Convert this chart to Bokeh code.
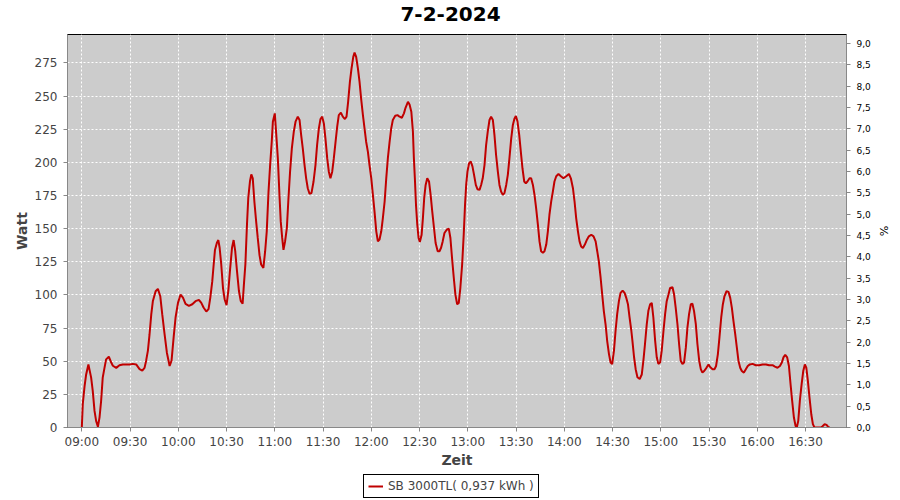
import datetime as dt
from bokeh.plotting import figure
from bokeh.layouts import column
from bokeh.models import (Range1d, LinearAxis, FixedTicker, CustomJSTickFormatter,
                          Legend, LegendItem, DatetimeTickFormatter, Label)
from bokeh.embed import file_html
from bokeh.resources import INLINE

TITLE = "7-2-2024"
Y_LABEL = "Watt"
X_LABEL = "Zeit"
Y2_LABEL = "%"
SERIES_LABEL = "SB 3000TL( 0,937 kWh )"
DAY = (2024, 2, 7)

# minutes after 09:00 and power in watt
min_a = [0, 0.6, 1.7, 2.7, 4.1, 5.8, 6.8, 7.9, 8.9, 10, 11, 12, 13, 14.1, 15.1, 16.8, 18.3, 19.3, 21.4, 23.4,
         25.5, 29.7, 31.7, 33.8, 35.9, 37.6, 39, 40, 41.1, 42.1, 43.2, 44.2, 45.9, 47.3, 48.8, 50, 51.5, 52.9, 54.6, 55.8,
         57.1, 58.3, 59.8, 61.4, 62.9, 64.5, 66.6, 68.7, 70.7, 72.8, 74.3, 75.7, 77.4, 78.8, 79.9, 81.1, 82, 82.8, 84, 84.9,
         85.7, 86.7, 87.8, 88.8, 90, 91.1, 92.1, 93.4, 94.4, 95.4, 96.5, 97.7, 98.8, 100, 100.8, 101.7, 102.7, 103.5, 104.6, 105.4]
watt_a = [0, 17.6, 31, 40, 47.6, 37.6, 27.6, 12.5, 5, 0.5, 7.5, 20, 37.6, 45, 51.4, 53.4, 49, 46.6, 45, 47,
          47.6, 47.6, 48, 47.6, 44, 42.9, 45, 50.4, 58, 70, 85.5, 95.5, 102.8, 104.6, 99, 85.5, 70, 56.4, 46.4, 50.4,
          68, 83, 94, 100.3, 98, 93.3, 91.8, 93, 95.3, 96.3, 94, 90.5, 87.5, 89.3, 98, 110, 123, 134, 139.4, 141.4,
          135.6, 123, 105, 96.8, 92.3, 103, 118, 135.6, 141.4, 133, 118, 103, 95.5, 93.5, 108, 123, 153, 173, 186, 191]

min_b = [106.3, 107.3, 108.4, 109.4, 110.5, 111.5, 112.9, 114, 115, 116.1, 117.1, 118.1, 118.8, 120, 120.8, 121.9,
         122.9, 123.7, 124.6, 125.4, 126.4, 127.5, 128.5, 129.5, 130.6, 131.8, 132.9, 134.3, 135.4, 136.4, 137.4, 138.5,
         139.5, 140.5, 141.6, 142.8, 144.1, 145.3, 146.3, 147.4, 148.4, 149.5, 150.5, 151.5, 152.6, 153.6, 154.6, 155.7,
         156.7, 157.8, 158.8, 159.8, 161.1, 162.3, 163.6, 164.6, 165.6, 166.7, 167.7, 168.8, 169.6, 170.6, 171.7, 172.7,
         173.7, 174.8, 175.8, 176.8, 177.9, 178.9, 180, 181, 182, 183.1, 184.1, 185.1, 186.2, 187.2, 188.3, 189.3,
         190.3, 191.4, 192.4, 193.4, 194.9, 196.3, 197.6, 199, 200.3, 201.3, 202.8, 203.8, 204.9, 205.9, 206.5, 207.1,
         207.8, 208.6, 209.4, 210.2, 211.3, 212.1, 212.9, 213.8, 214.8, 215.9, 216.9, 217.9, 219, 220, 221.3]
watt_b = [188, 170.5, 155.5, 143, 130, 123, 120.4, 133, 148, 178, 198, 215.6, 230.7, 237, 223, 203,
          175.5, 155.5, 143, 134, 140.4, 150.5, 173, 193, 210.6, 223, 230.7, 234.5, 232, 220.6, 210.6, 198,
          188, 180.5, 176.3, 176.8, 185.6, 198, 213, 225.7, 232.7, 234.5, 229.4, 218, 203, 193, 188, 193,
          203, 215.6, 227, 235.7, 237.5, 234.5, 232.7, 234.5, 245.7, 260.8, 270.8, 279.6, 282.8, 279.6, 270.8, 260.8,
          248, 235.7, 225.7, 215.6, 208, 198, 188, 175.5, 163, 148, 140.4, 141.7, 148, 158, 170.5, 188,
          203, 215.6, 225.7, 232, 235.2, 235.7, 234.5, 233.7, 237, 241.2, 245.7, 243.7, 238.2, 223, 203, 188,
          168, 153, 143, 140, 145.4, 158, 173, 183, 188, 185.6, 175.5, 163, 150.5, 139.2, 133]

min_c = [222.4, 223.4, 224.4, 225.5, 226.9, 228.2, 229.2, 230.2, 231.3, 232.3, 233.4, 234.4, 235.4, 236.5, 237.5, 238.3,
         239, 239.8, 240.8, 241.9, 242.9, 243.9, 245, 246, 247.3, 248.3, 249.3, 250.4, 251.4, 252.4, 253.5, 254.5,
         255.6, 256.6, 257.6, 258.7, 259.7, 260.7, 261.8, 262.8, 263.9, 264.9, 265.9, 267, 268, 269, 269.9, 270.9,
         272, 273, 274, 275.1, 276.1, 277.1, 278.4, 279.4, 280.5, 281.5, 282.5, 283.6, 284.6, 285.6, 286.7, 287.7,
         288.8, 289.8, 290.8, 291.9, 292.9, 293.9, 295, 296.4, 297.9, 299.5, 301.2, 302.9, 304.1, 305.4, 306.4, 307.4,
         308.5, 309.5, 310.5, 311.6, 312.8, 314.1, 315.3, 316.8, 318.2, 319.5, 320.5, 321.5, 322.6, 323.6, 324.6, 325.7,
         326.7, 327.8, 328.8, 329.8, 330.9, 331.9, 332.9, 334, 335, 336.3, 337.5, 338.5, 339.6, 340.6, 341.7]
watt_c = [133, 135.6, 140.4, 146.7, 149.2, 150, 143, 128, 113, 100.3, 93, 94, 105.6, 123, 146, 168,
          183, 193, 199.4, 200.6, 197, 190.6, 183, 179.8, 179.3, 183, 188, 198, 213, 223, 232, 234.5,
          232, 220.6, 205.6, 193, 183, 178, 175.5, 176.8, 183, 190.6, 203, 218, 228, 233, 235, 231,
          220.6, 208, 195.6, 185.6, 184.3, 185.6, 188, 188, 183, 175.5, 165.5, 153, 140.4, 133, 131.9, 133,
          138, 148, 160.7, 170.8, 178, 185.6, 189.6, 191.3, 189.6, 188, 189.6, 191.3, 188, 180.5, 170.5, 158,
          148, 140.4, 136.6, 135.4, 138, 141.7, 144.2, 145.4, 144.2, 140.4, 133, 125.4, 113, 100.3, 87.8, 77.7,
          65.2, 55.4, 49, 47.9, 58, 73, 85.5, 95.5, 101.6, 103.3, 101.6, 98, 93, 83, 73]

min_d = [342.4, 343.4, 344.4, 345.5, 346.9, 348.2, 349.2, 350.2, 351.3, 352.3, 353.4, 354.4, 355.4, 356.5, 357.5, 358.5,
         359.6, 360.6, 361.7, 362.7, 363.7, 364.8, 365.8, 367.3, 368.3, 369.3, 370.4, 371.4, 372.4, 373.5, 374.5, 375.6,
         376.6, 377.6, 378.7, 379.7, 380.7, 381.8, 382.8, 383.9, 384.9, 385.9, 387, 388.4, 389.7, 390.7, 392.2, 393.4,
         394.4, 395.5, 396.5, 397.6, 398.6, 399.6, 400.9, 402.1, 403.2, 404.2, 405.2, 406.3, 407.3, 408.3, 409.4, 410.4,
         411.7, 412.9, 414.1, 415.4, 417.1, 419.1, 421.2, 423.3, 425.4, 427.4, 429.5, 431, 432.6, 434.1, 435.3, 436.3,
         437.4, 438.6, 439.7, 440.7, 441.7, 442.8, 443.8, 444.6, 445.5, 446.5, 447.6, 448.6, 449.6, 450.5, 451.5, 452.5,
         453.6, 454.6, 455.6, 457.5, 459.6, 460.6, 461.9, 463.1, 464.1, 464.9]
watt_d = [65.2, 53, 44, 37.9, 36.6, 40, 50.4, 63, 78, 88, 93, 94, 83, 65.5, 53, 48,
          49, 58, 73, 85.5, 95.3, 100.3, 105.3, 105.8, 100.3, 90.3, 77.7, 63, 50.4, 47.9, 49, 60.4,
          75.5, 85.5, 93, 93.3, 87.8, 78, 63, 50.4, 44, 41.4, 42.6, 45, 47.6, 45.6, 44, 44,
          46.4, 55.2, 68, 83, 92.8, 99, 102.8, 102.3, 97.8, 90.5, 80.5, 70.5, 60.4, 50.4, 45.1, 42.6,
          41.4, 44, 46.4, 47.6, 48, 47, 47, 47.6, 47.6, 47, 47, 45.9, 45.1, 46.4, 49, 52.9,
          54.9, 52.9, 46.4, 32.8, 20.3, 7.5, 1.3, 0, 5, 20.3, 32.8, 42.6, 47.6, 45.1, 35, 22.6,
          10, 2.5, 0, 0, 0, 1, 2.5, 2, 0.5, 0]

x_tick_labels = ["09:00", "09:30", "10:00", "10:30", "11:00", "11:30", "12:00", "12:30",
                 "13:00", "13:30", "14:00", "14:30", "15:00", "15:30", "16:00", "16:30"]
y_ticks = [0, 25, 50, 75, 100, 125, 150, 175, 200, 225, 250, 275]
y2_ticks = [0, 0.5, 1, 1.5, 2, 2.5, 3, 3.5, 4, 4.5, 5, 5.5, 6, 6.5, 7, 7.5, 8, 8.5, 9]

minutes = min_a + min_b + min_c + min_d
watts = watt_a + watt_b + watt_c + watt_d
assert len(minutes) == len(watts)

base = dt.datetime(*DAY, 9, 0)
times = [base + dt.timedelta(minutes=m) for m in minutes]

def to_ms(d):
    return (d - dt.datetime(1970, 1, 1)).total_seconds() * 1000.0

x_ticks = []
for lab in x_tick_labels:
    hh, mm = lab.split(":")
    x_ticks.append(to_ms(dt.datetime(*DAY, int(hh), int(mm))))

FONT = "DejaVu Sans"
LINE_COLOR = "#C00000"
FIG_W = 892


def strip_fig(height):
    f = figure(width=FIG_W, height=height, x_range=Range1d(0, 1), y_range=Range1d(0, 1),
               toolbar_location=None, output_backend="svg",
               x_axis_location=None, y_axis_location=None, min_border=0)
    f.outline_line_color = None
    f.background_fill_color = "white"
    f.border_fill_color = "white"
    f.grid.visible = False
    return f


# title strip (its frame is aligned with the chart frame, which starts at x=67)
title_fig = strip_fig(26)
title_fig.add_layout(Label(x=383, y=13, x_units="screen", y_units="screen", text=TITLE,
                           text_align="center", text_baseline="middle", text_font=FONT,
                           text_font_size="20px", text_font_style="bold", text_color="black"))

# main chart
p = figure(frame_width=779, frame_height=393, x_axis_type="datetime",
           x_range=Range1d(base + dt.timedelta(minutes=-8.9), base + dt.timedelta(minutes=475.5)),
           y_range=Range1d(0, 296.5), output_backend="svg", toolbar_location=None)
p.min_border_left = 67
p.min_border_right = 40
p.min_border_top = 8
p.min_border_bottom = 44

p.background_fill_color = "#CCCCCC"
p.border_fill_color = "white"
p.outline_line_color = "black"
p.outline_line_width = 1

xa = p.xaxis[0]
xa.ticker = FixedTicker(ticks=x_ticks)
xa.formatter = DatetimeTickFormatter(minutes="%H:%M", hourmin="%H:%M", hours="%H:%M",
                                     minsec="%H:%M", seconds="%H:%M", days="%H:%M")
ya = p.yaxis[0]
ya.ticker = FixedTicker(ticks=y_ticks)

y2 = LinearAxis(y_range_name="pct", ticker=FixedTicker(ticks=y2_ticks),
                formatter=CustomJSTickFormatter(code="return tick.toFixed(1).replace('.', ',');"))
p.extra_y_ranges = {"pct": Range1d(0, 9.21)}
p.add_layout(y2, "right")

for ax in (xa, ya, y2):
    ax.axis_line_color = "#888888"
    ax.major_tick_line_color = "#888888"
    ax.minor_tick_line_color = None
    ax.major_tick_out = 4
    ax.major_tick_in = 0
    ax.major_label_text_font = FONT
    ax.major_label_text_font_size = "12px"
    ax.major_label_text_color = "#444444"
    ax.axis_label_text_font = FONT
    ax.axis_label_text_font_size = "14px"
    ax.axis_label_text_font_style = "bold"
    ax.axis_label_text_color = "#444444"
    ax.major_label_standoff = 3

xa.axis_label = X_LABEL
ya.axis_label = Y_LABEL
y2.axis_label = Y2_LABEL
xa.axis_label_standoff = 0
xa.major_label_standoff = 3
ya.axis_label_standoff = 2
ya.major_label_standoff = 6
y2.major_label_text_font_size = "9px"
y2.major_label_text_color = "black"
y2.major_label_standoff = 6
y2.axis_label_text_font_style = "normal"
y2.axis_label_text_font_size = "11px"
y2.axis_label_text_color = "black"
y2.axis_label_standoff = 3

for g in (p.xgrid[0], p.ygrid[0]):
    g.grid_line_color = "white"
    g.grid_line_dash = "2 2"
    g.grid_line_width = 1
p.xgrid[0].ticker = xa.ticker
p.ygrid[0].ticker = ya.ticker

p.line(times, watts, line_color=LINE_COLOR, line_width=2)

# legend strip: the sample renderer holds the series but lies outside this strip's ranges
leg_fig = strip_fig(28)
sample = leg_fig.line(x=[to_ms(t) for t in times], y=watts, line_color=LINE_COLOR, line_width=2)
legend = Legend(items=[LegendItem(label=SERIES_LABEL, renderers=[sample])],
                orientation="horizontal", location=(296, 1),
                border_line_color="black", border_line_width=1, border_line_alpha=1,
                background_fill_color="white", background_fill_alpha=1,
                label_text_font=FONT, label_text_font_size="12px", label_text_color="#444444",
                glyph_width=15, glyph_height=10, padding=4, spacing=0, margin=0,
                label_standoff=5, label_height=14)
leg_fig.add_layout(legend, "center")

layout = column(title_fig, p, leg_fig, spacing=0)
open("out.html", "w").write(file_html(layout, INLINE))
